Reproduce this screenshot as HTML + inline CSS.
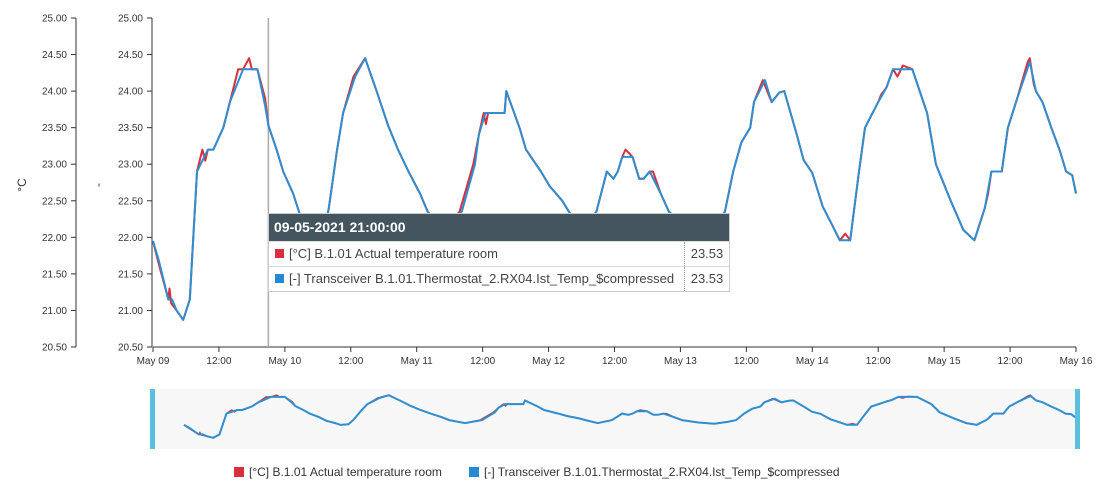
<!DOCTYPE html>
<html><head><meta charset="utf-8"><style>
html,body{margin:0;padding:0;background:#fff;width:1100px;height:501px;overflow:hidden;font-family:"Liberation Sans",sans-serif}
svg text{font-family:"Liberation Sans",sans-serif}
#tip{position:absolute;left:268px;top:213px;width:460px;border:1px solid #ccc;background:#fff;font-size:13px;color:#444}
#tip .hd{background:#455560;color:#fff;font-weight:bold;font-size:14px;height:27px;line-height:27px;padding-left:5px}
#tip .row{height:24px;line-height:24px;border-top:1px solid #ddd;position:relative;padding-left:6px}
#tip .sw{display:inline-block;width:9px;height:9px;margin-right:5px;vertical-align:-0px}
#tip .val{position:absolute;left:415px;top:0;width:44px;border-left:1px dotted #999;text-align:center;height:24px}
</style></head><body>
<svg id="chart" width="1100" height="501" style="position:absolute;left:0;top:0"></svg>
<div id="tip">
 <div class="hd">09-05-2021 21:00:00</div>
 <div class="row"><span class="sw" style="background:#d7303a"></span>[°C] B.1.01 Actual temperature room<span class="val">23.53</span></div>
 <div class="row"><span class="sw" style="background:#2389d6"></span>[-] Transceiver B.1.01.Thermostat_2.RX04.Ist_Temp_$compressed<span class="val">23.53</span></div>
</div>
<script>
const yTicks=[20.5,21,21.5,22,22.5,23,23.5,24,24.5,25];
const xTickHours=[0,12,24,36,48,60,72,84,96,108,120,132,144,156,168];
const xTickLabels=["May 09","12:00","May 10","12:00","May 11","12:00","May 12","12:00","May 13","12:00","May 14","12:00","May 15","12:00","May 16"];
const blueHours=[0,1,2.8,3.5,4.3,5.5,6.7,8,10,11,12.8,14,16.4,19,20.4,21,22.5,23.7,25.5,26.8,28.5,29.5,31,32,33.5,34.6,36.8,38.6,40.7,42.8,44.6,46.5,48.6,50,53,56.2,58.6,59.3,60.5,64,64.3,66.7,67.9,70.6,72.2,74.5,75.7,78,80.7,82.6,83.8,84.6,85.4,87.3,88.5,89.3,90.4,92.4,93.9,97,100,102.5,104.1,105.6,107.1,108.7,109.4,111.4,112.6,114,114.9,117.2,118.4,120,121.9,123.4,125,126.9,128.5,129.6,132,133.5,134.7,138.2,140.9,142.5,145.2,147.5,149.5,151.4,152.6,154.5,155.6,157.3,159.6,160.7,161.9,163.5,165,166.2,167.3,168];
const blueValues=[21.95,21.7,21.15,21.15,21.0,20.87,21.15,22.9,23.2,23.2,23.5,23.85,24.3,24.3,23.8,23.53,23.2,22.9,22.6,22.3,22.1,21.95,22.0,22.4,23.2,23.7,24.2,24.45,24.0,23.53,23.2,22.9,22.6,22.35,22.1,22.35,23.0,23.4,23.7,23.7,24.0,23.5,23.2,22.9,22.7,22.5,22.35,22.1,22.35,22.9,22.8,22.9,23.1,23.1,22.8,22.8,22.9,22.6,22.35,22.15,22.05,22.2,22.35,22.9,23.3,23.5,23.85,24.15,23.85,23.98,24.0,23.4,23.06,22.88,22.42,22.2,21.96,21.96,22.9,23.5,23.85,24.05,24.3,24.3,23.7,23.0,22.5,22.1,21.96,22.4,22.9,22.9,23.5,23.9,24.4,24.0,23.85,23.5,23.2,22.9,22.85,22.6];
const redHours=[0,1,2.8,3.0,3.3,4.3,5.5,6.7,8,9,9.5,10,11,12.8,14,15.5,16.4,17.5,18,19,20.4,21,22.5,23.7,25.5,26.8,28.5,29.5,31,32,33.5,34.6,36.5,38.6,40.7,42.8,44.6,46.5,48.6,50,53,55.8,58.3,59.3,60.2,60.6,61,64,64.3,66.7,67.9,70.6,72.2,74.5,75.7,78,80.7,82.6,83.8,84.6,85.4,86,87.3,88.5,89.3,90.4,91,92.4,93.9,97,100,102.5,104.1,105.6,107.1,108.7,109.4,111,112.6,114,114.9,117.2,118.4,120,121.9,123.4,125,126,126.9,128.5,129.6,132,132.5,133.5,134.7,135.5,136.5,138.2,140.9,142.5,145.2,147.5,149.5,151.4,152,152.6,154.5,155.6,157.3,159.2,159.6,160.3,160.7,161.9,163.5,165,166.2,167.3,168];
const redValues=[21.95,21.65,21.15,21.3,21.1,21.0,20.87,21.15,22.9,23.2,23.05,23.2,23.2,23.5,23.85,24.3,24.3,24.45,24.3,24.3,23.9,23.53,23.2,22.9,22.6,22.3,22.1,21.95,22.0,22.4,23.2,23.7,24.2,24.45,24.0,23.53,23.2,22.9,22.6,22.35,22.1,22.35,23.0,23.4,23.7,23.55,23.7,23.7,24.0,23.5,23.2,22.9,22.7,22.5,22.35,22.1,22.35,22.9,22.8,22.9,23.1,23.2,23.1,22.8,22.8,22.9,22.9,22.6,22.35,22.15,22.05,22.2,22.35,22.9,23.3,23.5,23.85,24.15,23.85,23.98,24.0,23.4,23.06,22.88,22.42,22.2,21.96,22.05,21.96,22.9,23.5,23.85,23.95,24.05,24.3,24.2,24.35,24.3,23.7,23.0,22.5,22.1,21.96,22.4,22.6,22.9,22.9,23.5,23.9,24.4,24.45,24.1,24.0,23.85,23.5,23.2,22.9,22.85,22.6];

const NS="http://www.w3.org/2000/svg";
const svg=document.getElementById('chart');
function mk(tag,attrs,parent){const e=document.createElementNS(NS,tag);for(const k in attrs)e.setAttribute(k,attrs[k]);(parent||svg).appendChild(e);return e;}
const X0=153,X1=1076,Y0=347,Y1=18;
const xS=h=>X0+h*(X1-X0)/168;
const yS=v=>Y0-(v-20.5)*(Y0-Y1)/4.5;
const nxS=h=>184+h*(1075-184)/168;
const nyS=v=>438-(v-20.85)*11.9;

let nb=mk('rect',{x:153,y:389,width:924,height:60,fill:'#f7f7f7'});


let h1=mk('rect',{x:150,y:389,width:5,height:60,fill:'#5bbfdf'});


let h2=mk('rect',{x:1075,y:389,width:5,height:60,fill:'#5bbfdf'});



[[76,'left-y-axis'],[152,'right-y-axis']].forEach(([ax,nm],i)=>{
 const g=mk('g',{});
 
 
 mk('line',{x1:ax,y1:Y1,x2:ax,y2:Y0,stroke:'#333','stroke-width':1},g);
 yTicks.forEach(v=>{
  const y=yS(v);
  mk('line',{x1:ax-5,y1:y,x2:ax,y2:y,stroke:'#333'},g);
  const t=mk('text',{x:ax-9,y:y+3.5,'text-anchor':'end','font-size':10,fill:'#333'},g);
  t.textContent=v.toFixed(2);
  
  
 });
});
let yt=mk('text',{x:26,y:185,'font-size':12,fill:'#333','text-anchor':'middle',transform:'rotate(-90 26 185)'});
yt.textContent='°C';


let yt2=mk('text',{x:102,y:185,'font-size':12,fill:'#333','text-anchor':'middle',transform:'rotate(-90 102 185)'});
yt2.textContent='-';



const xg=mk('g',{});


mk('line',{x1:X0,y1:Y0,x2:X1,y2:Y0,stroke:'#333'},xg);
xTickHours.forEach((h,i)=>{
 const x=xS(h);
 mk('line',{x1:x,y1:Y0,x2:x,y2:Y0+5,stroke:'#333'},xg);
 const t=mk('text',{x:x,y:Y0+17,'text-anchor':'middle','font-size':10,fill:'#333'},xg);
 t.textContent=xTickLabels[i];
 
 
});

let ch=mk('line',{x1:xS(21),y1:Y1,x2:xS(21),y2:Y0,stroke:'#aaa','stroke-width':1.5});



function path(hs,vs,fx,fy){return hs.map((h,i)=>(i?'L':'M')+fx(h).toFixed(1)+','+fy(vs[i]).toFixed(1)).join('');}
let rl=mk('path',{d:path(redHours,redValues,xS,yS),fill:'none',stroke:'#d7303a','stroke-width':2,'stroke-linejoin':'round'});


let bl=mk('path',{d:path(blueHours,blueValues,xS,yS),fill:'none',stroke:'#2f8ed0','stroke-width':2,'stroke-linejoin':'round'});


let nr=mk('path',{d:path(redHours,redValues,nxS,nyS),fill:'none',stroke:'#d7303a','stroke-width':1.5});


let nbl=mk('path',{d:path(blueHours,blueValues,nxS,nyS),fill:'none',stroke:'#2f8ed0','stroke-width':2});



const lg=mk('g',{});


const le1=mk('g',{},lg);


mk('rect',{x:234,y:467,width:10,height:10,fill:'#d7303a'},le1);
let lt1=mk('text',{x:249,y:476,'font-size':12,fill:'#333'},le1);lt1.textContent='[°C] B.1.01 Actual temperature room';
const le2=mk('g',{},lg);


mk('rect',{x:469,y:467,width:10,height:10,fill:'#2389d6'},le2);
let lt2=mk('text',{x:484,y:476,'font-size':12,fill:'#333'},le2);lt2.textContent='[-] Transceiver B.1.01.Thermostat_2.RX04.Ist_Temp_$compressed';
</script>
</body></html>
